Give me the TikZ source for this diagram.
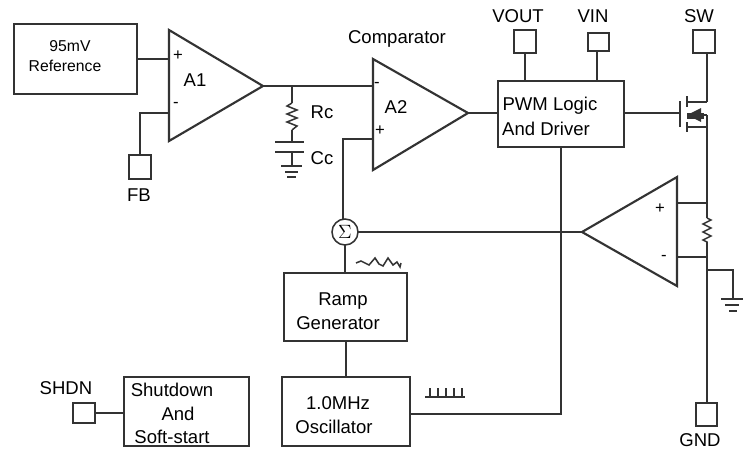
\documentclass[tikz,border=0pt]{standalone}
\usepackage{fontspec}
\setmainfont{Liberation Sans}
\usetikzlibrary{fit}
\definecolor{ink}{HTML}{333333}
\tikzset{
  wire/.style={draw=ink,line width=1.6pt,line join=miter},
  thinwire/.style={draw=ink,line width=1.15pt},
  box/.style={wire,rectangle,inner sep=0pt,outer sep=0pt},
  sumnode/.style={wire,circle,inner sep=0pt,outer sep=0pt,minimum size=19.5pt,fill=white,line width=1.15pt},
  lab/.style={inner sep=0pt,text=black,font=\fontsize{13.9}{16}\selectfont},
  small/.style={lab,font=\fontsize{11.8}{14}\selectfont},
  sign/.style={lab,font=\fontsize{12.5}{14}\selectfont}
}
\begin{document}
\begin{tikzpicture}[x=0.75pt,y=-0.75pt]
\useasboundingbox (0,0) rectangle (749,450);
% boxes
\node[box,fit={(14,24)(137,94)}] (ref) {};
\node[box,fit={(129,155)(151,179)}] (fb) {};
\node[box,fit={(498,81)(624,147)}] (pwm) {};
\node[box,fit={(514,30)(536,53)}] (vout) {};
\node[box,fit={(588,33)(609,51)}] (vin) {};
\node[box,fit={(693,30)(715,53)}] (sw) {};
\node[box,fit={(696,403)(717,426)}] (gnd) {};
\node[box,fit={(284,273)(407,341)}] (ramp) {};
\node[box,fit={(282,377)(410,446)}] (osc) {};
\node[box,fit={(124,377)(249,446)}] (shut) {};
\node[box,fit={(73,403)(95,423)}] (shdn) {};
\node[sumnode] (sum) at (345,232) {};
% key coordinates
\coordinate (a1t) at (169,30); \coordinate (a1b) at (169,141); \coordinate (a1o) at (263,86);
\coordinate (a2t) at (373,59); \coordinate (a2b) at (373,170); \coordinate (a2o) at (468,113);
\coordinate (a3t) at (677,177); \coordinate (a3b) at (677,286); \coordinate (a3o) at (582,232);
\coordinate (a1p) at (169,59); \coordinate (a1n) at (169,113);
\coordinate (a2n) at (373,86); \coordinate (a2p) at (373,139);
\coordinate (a3p) at (677,203); \coordinate (a3n) at (677,257);
\coordinate (rcj) at (292,86);
\coordinate (rct) at (292,103); \coordinate (rcb) at (292,130);
\coordinate (cc1) at (292,142); \coordinate (cc2) at (292,152); \coordinate (cg) at (292,166);
\coordinate (gate) at (680,113); \coordinate (mt) at (707,102); \coordinate (mb) at (707,127); \coordinate (ms) at (707,115);
\coordinate (rst) at (707,218); \coordinate (rsb) at (707,245);
\coordinate (s1) at (707,203); \coordinate (s2) at (707,257); \coordinate (s3) at (707,270);
\coordinate (gnd1) at (733,270); \coordinate (gnd2) at (733,299);
\coordinate (vert) at (561,148);
\coordinate (oscy) at (561,414);
% amplifiers
\draw[wire] (a1t) -- (a1o) -- (a1b) -- cycle;
\draw[wire] (a2t) -- (a2o) -- (a2b) -- cycle;
\draw[wire] (a3t) -- (a3o) -- (a3b) -- cycle;
% connectors
\draw[wire] (ref.east |- a1p) -- (a1p);
\draw[wire] (a1n) -| (fb.north);
\draw[wire] (a1o) -- (a2n);
\draw[wire] (rcj) -- (rct);
\draw[thinwire] (rct) -- ++(-5,3) -- ++(10,4) -- ++(-10,4) -- ++(10,4) -- ++(-10,4) -- ++(10,4) -- (rcb);
\draw[wire] (rcb) -- (cc1);
\draw[wire] (275,142) -- (304,142);
\draw[wire] (275,152) -- (304,152);
\draw[wire] (cc2) -- (cg);
\draw[wire] (281,166) -- (302,166);
\draw[wire] (285,172) -- (298,172);
\draw[wire] (287,177) -- (296,177);
\draw[wire] (a2p) -| ([xshift=-1.5pt]sum.north);
\draw[wire] (sum.east) -- (a3o);
\draw[wire] (sum.south) -- (ramp.north -| sum.south);
\draw[wire] (ramp.south -| osc.north) -- (osc.north);
\draw[wire] (a2o) -- (pwm.west |- a2o);
\draw[wire] (vout.south -| 525,0) -- (pwm.north -| 525,0);
\draw[wire] (vin.south -| 597,0) -- (pwm.north -| 597,0);
\draw[wire] (shdn.east) -- (shut.west |- shdn.east);
\draw[wire] (osc.east |- oscy) -- (oscy) -- (pwm.south -| vert);
% MOSFET
\draw[wire] (pwm.east |- gate) -- (gate);
\draw[wire,line width=1.9pt] (680,101) -- (680,127);
\draw[wire] (687,96) -- (687,107);
\draw[wire] (687,122) -- (687,132);
\draw[wire] (687,102) -- (mt);
\draw[wire] (687,127) -- (mb);
\draw[wire] (sw.south -| mt) -- (mt);
\draw[wire] (ms) -- (gnd.north -| ms);
\draw[wire] (695,115) -- (ms);
\fill[ink] (687,115) -- (701,108) -- (701,122) -- cycle;
\fill[ink] (687,113) rectangle (704,119);
% sense
\draw[wire] (a3p) -- (s1);
\draw[wire] (a3n) -- (s2);
\path[draw=white,line width=2.2pt] (rst) -- (rsb);
\draw[thinwire] (rst) -- ++(4,2) -- ++(-8,4) -- ++(8,4) -- ++(-8,4) -- ++(8,4) -- ++(-8,4) -- ++(4,2) -- (rsb);
\draw[wire] (s3) -- (gnd1) -- (gnd2);
\draw[wire] (721,299) -- (743,299);
\draw[wire] (725,305) -- (739,305);
\draw[wire] (729,311) -- (737,311);
% waveforms
\draw[thinwire] (356,263) -- (361,261) -- (365,263) -- (369,265) -- (375,258) -- (379,264) -- (383,266) -- (388,258) -- (393,265) -- (397,262) -- (400,267) -- (401,263);
\draw[thinwire] (425,397) -- (465,397);
\foreach \q in {430,438,446,454,462} \draw[ink,line width=0.9pt] (\q,397) -- (\q,388);
% labels
\node[small] (t95) at (70,46) {95mV};
\node[small] (tref) at (65,66) {Reference};
\node[sign] (ta1p) at (178,56) {+};
\node[sign] (ta1n) at (176,105) {-};
\node[lab] (ta1) at (195,80) {A1};
\node[lab] (tfb) at (139,195) {FB};
\node[lab] (tcomp) at (397,39) {Comparator};
\node[lab] (trc) at (322,112) {Rc};
\node[lab] (tcc) at (322,158) {Cc};
\node[lab] (ta2) at (396,107) {A2};
\node[sign] (ta2n) at (377,85) {-};
\node[sign] (ta2p) at (380,131) {+};
\node[lab] (tvout) at (518,16) {VOUT};
\node[lab] (tvin) at (593,16) {VIN};
\node[lab] (tsw) at (699,16) {SW};
\node[lab] (tpwm1) at (550,106) {PWM Logic};
\node[lab] (tpwm2) at (546,129) {And Driver};
\node[sign] (ta3p) at (660,209) {+};
\node[sign] (ta3n) at (664,258) {-};
\node[lab] (tsig) at (sum) {$\Sigma$};
\node[lab] (tramp1) at (343,301) {Ramp};
\node[lab] (tramp2) at (338,323) {Generator};
\node[lab] (tosc1) at (338,403) {1.0MHz};
\node[lab] (tosc2) at (334,427) {Oscillator};
\node[lab] (ts1) at (172,390) {Shutdown};
\node[lab] (ts2) at (178,414) {And};
\node[lab] (ts3) at (172,437) {Soft-start};
\node[lab] (tshdn) at (66,388) {SHDN};
\node[lab] (tgnd) at (700,440) {GND};
\end{tikzpicture}
\end{document}
